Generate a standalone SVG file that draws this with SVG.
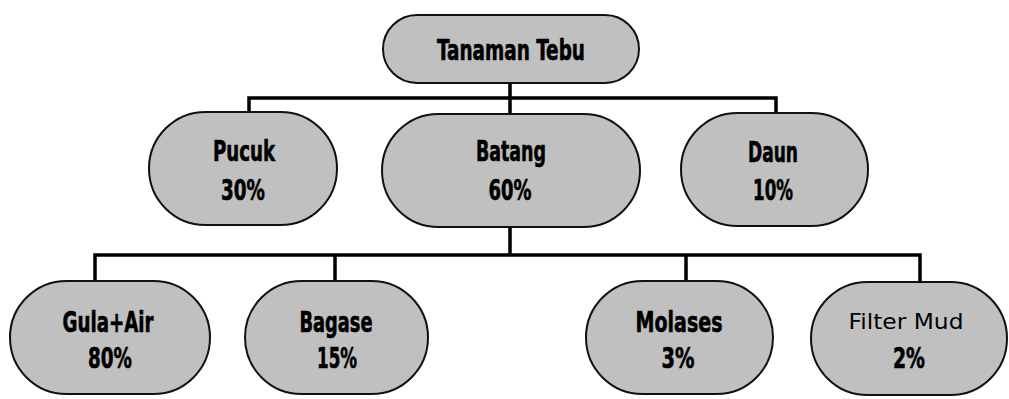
<svg xmlns="http://www.w3.org/2000/svg" width="1009" height="399" viewBox="0 0 1009 399">
  <style>
    .node { fill: #c0c0c0; stroke: #111; stroke-width: 2; }
    .lbl { font-family: "DejaVu Sans Condensed", "DejaVu Sans", sans-serif; font-stretch: condensed; font-weight: bold; font-size: 29px; fill: #000; text-anchor: middle; stroke: #000; stroke-width: 0.6; }
    .hand { font-family: "DejaVu Sans", sans-serif; font-weight: normal; font-size: 21px; fill: #000; text-anchor: middle; }
    .wire { fill: none; stroke: #000; stroke-width: 3.5; stroke-linejoin: miter; }
  </style>
  <rect width="1009" height="399" fill="#fff"/>

  <g id="connectors">
    <path class="wire" d="M510 83 V98 M249 112 V98 H776 V113 M510 98 V114"/>
    <path class="wire" d="M510 227 V255 M95 281 V255 H920 V282 M335 255 V281 M686 255 V281"/>
  </g>

  <g id="tanaman-tebu">
    <rect class="node" x="383" y="15" width="256" height="68" rx="34"/>
    <text class="lbl" x="511" y="60" textLength="148" lengthAdjust="spacingAndGlyphs">Tanaman Tebu</text>
  </g>

  <g id="pucuk">
    <rect class="node" x="149" y="112" width="188" height="113" rx="56.5"/>
    <text class="lbl" x="244" y="161" textLength="62" lengthAdjust="spacingAndGlyphs">Pucuk</text>
    <text class="lbl" x="243" y="200" textLength="44" lengthAdjust="spacingAndGlyphs">30%</text>
  </g>

  <g id="batang">
    <rect class="node" x="382" y="114" width="258" height="113" rx="56.5"/>
    <text class="lbl" x="511" y="161" textLength="70" lengthAdjust="spacingAndGlyphs">Batang</text>
    <text class="lbl" x="510" y="200" textLength="43" lengthAdjust="spacingAndGlyphs">60%</text>
  </g>

  <g id="daun">
    <rect class="node" x="681" y="113" width="187" height="113" rx="56.5"/>
    <text class="lbl" x="773" y="162" textLength="50" lengthAdjust="spacingAndGlyphs">Daun</text>
    <text class="lbl" x="773" y="200" textLength="40" lengthAdjust="spacingAndGlyphs">10%</text>
  </g>

  <g id="gula-air">
    <rect class="node" x="10" y="281" width="200" height="113" rx="56.5"/>
    <text class="lbl" x="108" y="332" textLength="91" lengthAdjust="spacingAndGlyphs">Gula+Air</text>
    <text class="lbl" x="110" y="368" textLength="44" lengthAdjust="spacingAndGlyphs">80%</text>
  </g>

  <g id="bagase">
    <rect class="node" x="245" y="281" width="183" height="113" rx="56.5"/>
    <text class="lbl" x="336" y="332" textLength="73" lengthAdjust="spacingAndGlyphs">Bagase</text>
    <text class="lbl" x="337" y="368" textLength="40" lengthAdjust="spacingAndGlyphs">15%</text>
  </g>

  <g id="molases">
    <rect class="node" x="586" y="281" width="187" height="113" rx="56.5"/>
    <text class="lbl" x="679" y="332" textLength="87" lengthAdjust="spacingAndGlyphs">Molases</text>
    <text class="lbl" x="678" y="368" textLength="33" lengthAdjust="spacingAndGlyphs">3%</text>
  </g>

  <g id="filter-mud">
    <rect class="node" x="811" y="282" width="196" height="113" rx="56.5"/>
    <text class="hand" x="906" y="329" textLength="115" lengthAdjust="spacingAndGlyphs">Filter Mud</text>
    <text class="lbl" x="909" y="368" textLength="32" lengthAdjust="spacingAndGlyphs">2%</text>
  </g>
</svg>
